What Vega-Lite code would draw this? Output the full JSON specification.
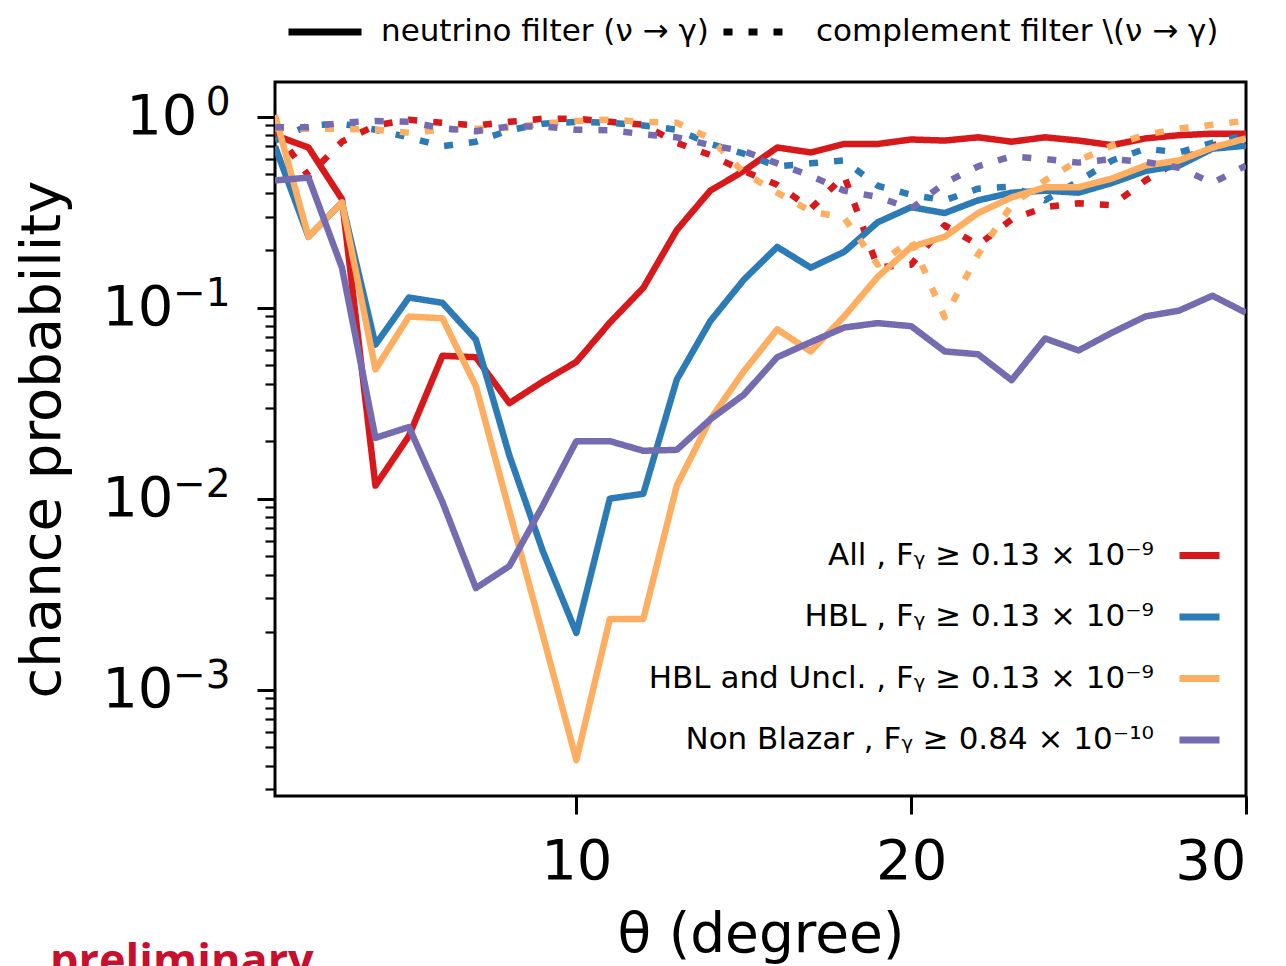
{
  "$schema": "https://vega.github.io/schema/vega-lite/v6.json",
  "autosize": {"type": "none"},
  "padding": {"left": 275, "top": 82, "right": 40, "bottom": 170},
  "width": 971,
  "height": 714,
  "title": {"text": "preliminary", "orient": "bottom", "anchor": "start", "frame": "group", "dx": -225, "offset": 14, "baseline": "alphabetic", "color": "#c8102e", "fontSize": 45, "fontWeight": "bold", "font": "Open Sans"},
  "data": {"values": [
    {"t":1,"c":"All","f":"neutrino","p":0.80},{"t":2,"c":"All","f":"neutrino","p":0.69},{"t":3,"c":"All","f":"neutrino","p":0.37},{"t":4,"c":"All","f":"neutrino","p":0.0117},{"t":5,"c":"All","f":"neutrino","p":0.0213},{"t":6,"c":"All","f":"neutrino","p":0.056},{"t":7,"c":"All","f":"neutrino","p":0.055},{"t":8,"c":"All","f":"neutrino","p":0.0316},{"t":9,"c":"All","f":"neutrino","p":0.041},{"t":10,"c":"All","f":"neutrino","p":0.052},{"t":11,"c":"All","f":"neutrino","p":0.0835},{"t":12,"c":"All","f":"neutrino","p":0.127},{"t":13,"c":"All","f":"neutrino","p":0.255},{"t":14,"c":"All","f":"neutrino","p":0.41},{"t":15,"c":"All","f":"neutrino","p":0.52},{"t":16,"c":"All","f":"neutrino","p":0.69},{"t":17,"c":"All","f":"neutrino","p":0.65},{"t":18,"c":"All","f":"neutrino","p":0.72},{"t":19,"c":"All","f":"neutrino","p":0.72},{"t":20,"c":"All","f":"neutrino","p":0.76},{"t":21,"c":"All","f":"neutrino","p":0.75},{"t":22,"c":"All","f":"neutrino","p":0.78},{"t":23,"c":"All","f":"neutrino","p":0.74},{"t":24,"c":"All","f":"neutrino","p":0.78},{"t":25,"c":"All","f":"neutrino","p":0.75},{"t":26,"c":"All","f":"neutrino","p":0.71},{"t":27,"c":"All","f":"neutrino","p":0.77},{"t":28,"c":"All","f":"neutrino","p":0.80},{"t":29,"c":"All","f":"neutrino","p":0.815},{"t":30,"c":"All","f":"neutrino","p":0.815},
    {"t":1,"c":"All","f":"complement","p":0.85},{"t":2,"c":"All","f":"complement","p":0.49},{"t":3,"c":"All","f":"complement","p":0.74},{"t":4,"c":"All","f":"complement","p":0.90},{"t":5,"c":"All","f":"complement","p":0.965},{"t":6,"c":"All","f":"complement","p":0.93},{"t":7,"c":"All","f":"complement","p":0.90},{"t":8,"c":"All","f":"complement","p":0.94},{"t":9,"c":"All","f":"complement","p":0.976},{"t":10,"c":"All","f":"complement","p":0.976},{"t":11,"c":"All","f":"complement","p":0.94},{"t":12,"c":"All","f":"complement","p":0.91},{"t":13,"c":"All","f":"complement","p":0.73},{"t":14,"c":"All","f":"complement","p":0.63},{"t":15,"c":"All","f":"complement","p":0.52},{"t":16,"c":"All","f":"complement","p":0.44},{"t":17,"c":"All","f":"complement","p":0.33},{"t":18,"c":"All","f":"complement","p":0.49},{"t":19,"c":"All","f":"complement","p":0.163},{"t":20,"c":"All","f":"complement","p":0.168},{"t":21,"c":"All","f":"complement","p":0.27},{"t":22,"c":"All","f":"complement","p":0.213},{"t":23,"c":"All","f":"complement","p":0.29},{"t":24,"c":"All","f":"complement","p":0.336},{"t":25,"c":"All","f":"complement","p":0.352},{"t":26,"c":"All","f":"complement","p":0.344},{"t":27,"c":"All","f":"complement","p":0.464},{"t":28,"c":"All","f":"complement","p":0.59},{"t":29,"c":"All","f":"complement","p":0.706},{"t":30,"c":"All","f":"complement","p":0.80},
    {"t":1,"c":"HBL","f":"neutrino","p":0.70},{"t":2,"c":"HBL","f":"neutrino","p":0.235},{"t":3,"c":"HBL","f":"neutrino","p":0.356},{"t":4,"c":"HBL","f":"neutrino","p":0.064},{"t":5,"c":"HBL","f":"neutrino","p":0.113},{"t":6,"c":"HBL","f":"neutrino","p":0.106},{"t":7,"c":"HBL","f":"neutrino","p":0.068},{"t":8,"c":"HBL","f":"neutrino","p":0.0168},{"t":9,"c":"HBL","f":"neutrino","p":0.0053},{"t":10,"c":"HBL","f":"neutrino","p":0.00198},{"t":11,"c":"HBL","f":"neutrino","p":0.0100},{"t":12,"c":"HBL","f":"neutrino","p":0.0106},{"t":13,"c":"HBL","f":"neutrino","p":0.042},{"t":14,"c":"HBL","f":"neutrino","p":0.085},{"t":15,"c":"HBL","f":"neutrino","p":0.14},{"t":16,"c":"HBL","f":"neutrino","p":0.208},{"t":17,"c":"HBL","f":"neutrino","p":0.162},{"t":18,"c":"HBL","f":"neutrino","p":0.196},{"t":19,"c":"HBL","f":"neutrino","p":0.28},{"t":20,"c":"HBL","f":"neutrino","p":0.336},{"t":21,"c":"HBL","f":"neutrino","p":0.313},{"t":22,"c":"HBL","f":"neutrino","p":0.365},{"t":23,"c":"HBL","f":"neutrino","p":0.40},{"t":24,"c":"HBL","f":"neutrino","p":0.41},{"t":25,"c":"HBL","f":"neutrino","p":0.40},{"t":26,"c":"HBL","f":"neutrino","p":0.45},{"t":27,"c":"HBL","f":"neutrino","p":0.52},{"t":28,"c":"HBL","f":"neutrino","p":0.555},{"t":29,"c":"HBL","f":"neutrino","p":0.68},{"t":30,"c":"HBL","f":"neutrino","p":0.705},
    {"t":1,"c":"HBL","f":"complement","p":0.75},{"t":2,"c":"HBL","f":"complement","p":0.90},{"t":3,"c":"HBL","f":"complement","p":0.92},{"t":4,"c":"HBL","f":"complement","p":0.855},{"t":5,"c":"HBL","f":"complement","p":0.78},{"t":6,"c":"HBL","f":"complement","p":0.70},{"t":7,"c":"HBL","f":"complement","p":0.74},{"t":8,"c":"HBL","f":"complement","p":0.85},{"t":9,"c":"HBL","f":"complement","p":0.92},{"t":10,"c":"HBL","f":"complement","p":0.94},{"t":11,"c":"HBL","f":"complement","p":0.93},{"t":12,"c":"HBL","f":"complement","p":0.90},{"t":13,"c":"HBL","f":"complement","p":0.855},{"t":14,"c":"HBL","f":"complement","p":0.72},{"t":15,"c":"HBL","f":"complement","p":0.64},{"t":16,"c":"HBL","f":"complement","p":0.55},{"t":17,"c":"HBL","f":"complement","p":0.57},{"t":18,"c":"HBL","f":"complement","p":0.59},{"t":19,"c":"HBL","f":"complement","p":0.435},{"t":20,"c":"HBL","f":"complement","p":0.39},{"t":21,"c":"HBL","f":"complement","p":0.365},{"t":22,"c":"HBL","f":"complement","p":0.42},{"t":23,"c":"HBL","f":"complement","p":0.43},{"t":24,"c":"HBL","f":"complement","p":0.365},{"t":25,"c":"HBL","f":"complement","p":0.46},{"t":26,"c":"HBL","f":"complement","p":0.59},{"t":27,"c":"HBL","f":"complement","p":0.68},{"t":28,"c":"HBL","f":"complement","p":0.65},{"t":29,"c":"HBL","f":"complement","p":0.73},{"t":30,"c":"HBL","f":"complement","p":0.80},
    {"t":1,"c":"HBL and Uncl.","f":"neutrino","p":1.02},{"t":2,"c":"HBL and Uncl.","f":"neutrino","p":0.235},{"t":3,"c":"HBL and Uncl.","f":"neutrino","p":0.356},{"t":4,"c":"HBL and Uncl.","f":"neutrino","p":0.0475},{"t":5,"c":"HBL and Uncl.","f":"neutrino","p":0.0898},{"t":6,"c":"HBL and Uncl.","f":"neutrino","p":0.088},{"t":7,"c":"HBL and Uncl.","f":"neutrino","p":0.0388},{"t":8,"c":"HBL and Uncl.","f":"neutrino","p":0.0086},{"t":9,"c":"HBL and Uncl.","f":"neutrino","p":0.00193},{"t":10,"c":"HBL and Uncl.","f":"neutrino","p":0.000427},{"t":11,"c":"HBL and Uncl.","f":"neutrino","p":0.00234},{"t":12,"c":"HBL and Uncl.","f":"neutrino","p":0.00234},{"t":13,"c":"HBL and Uncl.","f":"neutrino","p":0.0117},{"t":14,"c":"HBL and Uncl.","f":"neutrino","p":0.026},{"t":15,"c":"HBL and Uncl.","f":"neutrino","p":0.0464},{"t":16,"c":"HBL and Uncl.","f":"neutrino","p":0.077},{"t":17,"c":"HBL and Uncl.","f":"neutrino","p":0.059},{"t":18,"c":"HBL and Uncl.","f":"neutrino","p":0.09},{"t":19,"c":"HBL and Uncl.","f":"neutrino","p":0.145},{"t":20,"c":"HBL and Uncl.","f":"neutrino","p":0.208},{"t":21,"c":"HBL and Uncl.","f":"neutrino","p":0.235},{"t":22,"c":"HBL and Uncl.","f":"neutrino","p":0.313},{"t":23,"c":"HBL and Uncl.","f":"neutrino","p":0.378},{"t":24,"c":"HBL and Uncl.","f":"neutrino","p":0.427},{"t":25,"c":"HBL and Uncl.","f":"neutrino","p":0.427},{"t":26,"c":"HBL and Uncl.","f":"neutrino","p":0.475},{"t":27,"c":"HBL and Uncl.","f":"neutrino","p":0.555},{"t":28,"c":"HBL and Uncl.","f":"neutrino","p":0.59},{"t":29,"c":"HBL and Uncl.","f":"neutrino","p":0.69},{"t":30,"c":"HBL and Uncl.","f":"neutrino","p":0.77},
    {"t":1,"c":"HBL and Uncl.","f":"complement","p":0.87},{"t":2,"c":"HBL and Uncl.","f":"complement","p":0.866},{"t":3,"c":"HBL and Uncl.","f":"complement","p":0.866},{"t":4,"c":"HBL and Uncl.","f":"complement","p":0.855},{"t":5,"c":"HBL and Uncl.","f":"complement","p":0.825},{"t":6,"c":"HBL and Uncl.","f":"complement","p":0.855},{"t":7,"c":"HBL and Uncl.","f":"complement","p":0.866},{"t":8,"c":"HBL and Uncl.","f":"complement","p":0.876},{"t":9,"c":"HBL and Uncl.","f":"complement","p":0.92},{"t":10,"c":"HBL and Uncl.","f":"complement","p":0.95},{"t":11,"c":"HBL and Uncl.","f":"complement","p":0.965},{"t":12,"c":"HBL and Uncl.","f":"complement","p":0.94},{"t":13,"c":"HBL and Uncl.","f":"complement","p":0.93},{"t":14,"c":"HBL and Uncl.","f":"complement","p":0.77},{"t":15,"c":"HBL and Uncl.","f":"complement","p":0.51},{"t":16,"c":"HBL and Uncl.","f":"complement","p":0.40},{"t":17,"c":"HBL and Uncl.","f":"complement","p":0.32},{"t":18,"c":"HBL and Uncl.","f":"complement","p":0.295},{"t":19,"c":"HBL and Uncl.","f":"complement","p":0.168},{"t":20,"c":"HBL and Uncl.","f":"complement","p":0.226},{"t":21,"c":"HBL and Uncl.","f":"complement","p":0.089},{"t":22,"c":"HBL and Uncl.","f":"complement","p":0.19},{"t":23,"c":"HBL and Uncl.","f":"complement","p":0.344},{"t":24,"c":"HBL and Uncl.","f":"complement","p":0.464},{"t":25,"c":"HBL and Uncl.","f":"complement","p":0.59},{"t":26,"c":"HBL and Uncl.","f":"complement","p":0.706},{"t":27,"c":"HBL and Uncl.","f":"complement","p":0.806},{"t":28,"c":"HBL and Uncl.","f":"complement","p":0.866},{"t":29,"c":"HBL and Uncl.","f":"complement","p":0.908},{"t":30,"c":"HBL and Uncl.","f":"complement","p":0.953},
    {"t":1,"c":"Non Blazar","f":"neutrino","p":0.464},{"t":2,"c":"Non Blazar","f":"neutrino","p":0.48},{"t":3,"c":"Non Blazar","f":"neutrino","p":0.162},{"t":4,"c":"Non Blazar","f":"neutrino","p":0.0208},{"t":5,"c":"Non Blazar","f":"neutrino","p":0.0237},{"t":6,"c":"Non Blazar","f":"neutrino","p":0.0096},{"t":7,"c":"Non Blazar","f":"neutrino","p":0.0034},{"t":8,"c":"Non Blazar","f":"neutrino","p":0.00443},{"t":9,"c":"Non Blazar","f":"neutrino","p":0.0092},{"t":10,"c":"Non Blazar","f":"neutrino","p":0.020},{"t":11,"c":"Non Blazar","f":"neutrino","p":0.020},{"t":12,"c":"Non Blazar","f":"neutrino","p":0.0178},{"t":13,"c":"Non Blazar","f":"neutrino","p":0.018},{"t":14,"c":"Non Blazar","f":"neutrino","p":0.026},{"t":15,"c":"Non Blazar","f":"neutrino","p":0.035},{"t":16,"c":"Non Blazar","f":"neutrino","p":0.055},{"t":17,"c":"Non Blazar","f":"neutrino","p":0.066},{"t":18,"c":"Non Blazar","f":"neutrino","p":0.0787},{"t":19,"c":"Non Blazar","f":"neutrino","p":0.083},{"t":20,"c":"Non Blazar","f":"neutrino","p":0.080},{"t":21,"c":"Non Blazar","f":"neutrino","p":0.059},{"t":22,"c":"Non Blazar","f":"neutrino","p":0.057},{"t":23,"c":"Non Blazar","f":"neutrino","p":0.0417},{"t":24,"c":"Non Blazar","f":"neutrino","p":0.069},{"t":25,"c":"Non Blazar","f":"neutrino","p":0.0597},{"t":26,"c":"Non Blazar","f":"neutrino","p":0.074},{"t":27,"c":"Non Blazar","f":"neutrino","p":0.090},{"t":28,"c":"Non Blazar","f":"neutrino","p":0.0965},{"t":29,"c":"Non Blazar","f":"neutrino","p":0.1155},{"t":30,"c":"Non Blazar","f":"neutrino","p":0.094},
    {"t":1,"c":"Non Blazar","f":"complement","p":0.88},{"t":2,"c":"Non Blazar","f":"complement","p":0.88},{"t":3,"c":"Non Blazar","f":"complement","p":0.93},{"t":4,"c":"Non Blazar","f":"complement","p":0.95},{"t":5,"c":"Non Blazar","f":"complement","p":0.94},{"t":6,"c":"Non Blazar","f":"complement","p":0.87},{"t":7,"c":"Non Blazar","f":"complement","p":0.84},{"t":8,"c":"Non Blazar","f":"complement","p":0.89},{"t":9,"c":"Non Blazar","f":"complement","p":0.89},{"t":10,"c":"Non Blazar","f":"complement","p":0.855},{"t":11,"c":"Non Blazar","f":"complement","p":0.85},{"t":12,"c":"Non Blazar","f":"complement","p":0.81},{"t":13,"c":"Non Blazar","f":"complement","p":0.78},{"t":14,"c":"Non Blazar","f":"complement","p":0.71},{"t":15,"c":"Non Blazar","f":"complement","p":0.66},{"t":16,"c":"Non Blazar","f":"complement","p":0.57},{"t":17,"c":"Non Blazar","f":"complement","p":0.49},{"t":18,"c":"Non Blazar","f":"complement","p":0.41},{"t":19,"c":"Non Blazar","f":"complement","p":0.38},{"t":20,"c":"Non Blazar","f":"complement","p":0.33},{"t":21,"c":"Non Blazar","f":"complement","p":0.45},{"t":22,"c":"Non Blazar","f":"complement","p":0.55},{"t":23,"c":"Non Blazar","f":"complement","p":0.62},{"t":24,"c":"Non Blazar","f":"complement","p":0.60},{"t":25,"c":"Non Blazar","f":"complement","p":0.575},{"t":26,"c":"Non Blazar","f":"complement","p":0.60},{"t":27,"c":"Non Blazar","f":"complement","p":0.58},{"t":28,"c":"Non Blazar","f":"complement","p":0.54},{"t":29,"c":"Non Blazar","f":"complement","p":0.45},{"t":30,"c":"Non Blazar","f":"complement","p":0.555}
  ]},
  "layer": [
    {
      "mark": {"type": "line", "strokeWidth": 6.5, "clip": true, "strokeCap": "butt", "strokeJoin": "round"},
      "encoding": {
        "x": {"field": "t", "type": "quantitative",
          "scale": {"domain": [1, 30], "nice": false, "zero": false},
          "axis": {"values": [10, 20, 30], "title": "θ (degree)", "grid": false, "domain": false,
            "tickSize": 18, "tickWidth": 3, "tickColor": "black",
            "labelFontSize": 56, "labelColor": "black", "labelPadding": 20, "labelFont": "DejaVu Sans",
            "titleFontSize": 55, "titleFontWeight": "normal", "titleColor": "black", "titlePadding": 19, "titleFont": "DejaVu Sans"}},
        "y": {"field": "p", "type": "quantitative",
          "scale": {"type": "log", "domain": [0.000277, 1.52], "nice": false},
          "axis": {"values": [0.0003,0.0004,0.0005,0.0006,0.0007,0.0008,0.0009,0.001,0.002,0.003,0.004,0.005,0.006,0.007,0.008,0.009,0.01,0.02,0.03,0.04,0.05,0.06,0.07,0.08,0.09,0.1,0.2,0.3,0.4,0.5,0.6,0.7,0.8,0.9,1],
            "title": "chance probability", "grid": false, "domain": false,
            "tickColor": "black",
            "tickSize": {"condition": {"test": "abs(log(datum.value)/LN10 - round(log(datum.value)/LN10)) < 0.000001", "value": 18}, "value": 10},
            "tickWidth": {"condition": {"test": "abs(log(datum.value)/LN10 - round(log(datum.value)/LN10)) < 0.000001", "value": 3}, "value": 2.2},
            "labelExpr": "abs(log(datum.value)/LN10 - round(log(datum.value)/LN10)) < 0.000001 ? '10' : ''",
            "labelPadding": {"condition": {"test": "datum.value > 0.5", "value": 60}, "value": 84},
            "labelFontSize": 56, "labelColor": "black", "labelFont": "DejaVu Sans", "labelOverlap": false, "labelBound": false,
            "titleFontSize": 56, "titleFontWeight": "normal", "titleColor": "black", "titlePadding": 30, "titleFont": "DejaVu Sans"}},
        "color": {"field": "c", "type": "nominal",
          "scale": {"domain": ["All", "HBL", "HBL and Uncl.", "Non Blazar"], "range": ["#d7191c", "#2c7bb6", "#fdae61", "#756bb1"]},
          "legend": {"orient": "none", "legendX": 901, "legendY": 450, "title": null, "direction": "vertical",
            "labelExpr": "datum.label + (datum.label == 'Non Blazar' ? ' , Fᵧ ≥ 0.84 × 10⁻¹⁰' : ' , Fᵧ ≥ 0.13 × 10⁻⁹')",
            "labelAlign": "right", "labelOffset": -69, "labelLimit": 1000, "labelFontSize": 31, "labelColor": "black", "labelFont": "DejaVu Sans",
            "symbolType": "stroke", "symbolSize": 1600, "symbolStrokeWidth": 7, "rowPadding": 22.5, "padding": 0}},
        "strokeDash": {"field": "f", "type": "nominal",
          "scale": {"domain": ["neutrino", "complement"], "range": [[1, 0], [9, 16]]},
          "legend": {"orient": "none", "legendX": 10, "legendY": -90, "title": null, "direction": "horizontal", "columns": 2, "columnPadding": 0,
            "labelExpr": "datum.label == 'neutrino' ? 'neutrino filter (ν → γ)' : 'complement filter \\\\(ν → γ)'",
            "labelLimit": 1000, "labelFontSize": 31, "labelColor": "black", "labelOffset": 16, "labelFont": "DejaVu Sans",
            "symbolType": "stroke", "symbolSize": 5329, "symbolStrokeWidth": 7, "symbolStrokeColor": "black", "padding": 0}},
        "order": {"field": "t", "type": "quantitative"}
      }
    },
    {
      "mark": {"type": "line", "opacity": 0, "clip": true},
      "encoding": {
        "x": {"field": "t", "type": "quantitative"},
        "y": {"field": "p", "type": "quantitative",
          "axis": {"orient": "left", "values": [0.001, 0.01, 0.1, 1], "title": null, "grid": false, "domain": false, "ticks": false, "tickSize": 0,
            "labelExpr": "datum.value > 0.5 ? '0' : datum.value > 0.05 ? '−1' : datum.value > 0.005 ? '−2' : '−3'",
            "labelPadding": 45, "labelOffset": -14, "labelFontSize": 39, "labelColor": "black", "labelFont": "DejaVu Sans", "labelOverlap": false, "labelBound": false}}
      }
    }
  ],
  "resolve": {"axis": {"y": "independent"}},
  "config": {
    "view": {"stroke": "black", "strokeWidth": 3},
    "background": "white"
  }
}
